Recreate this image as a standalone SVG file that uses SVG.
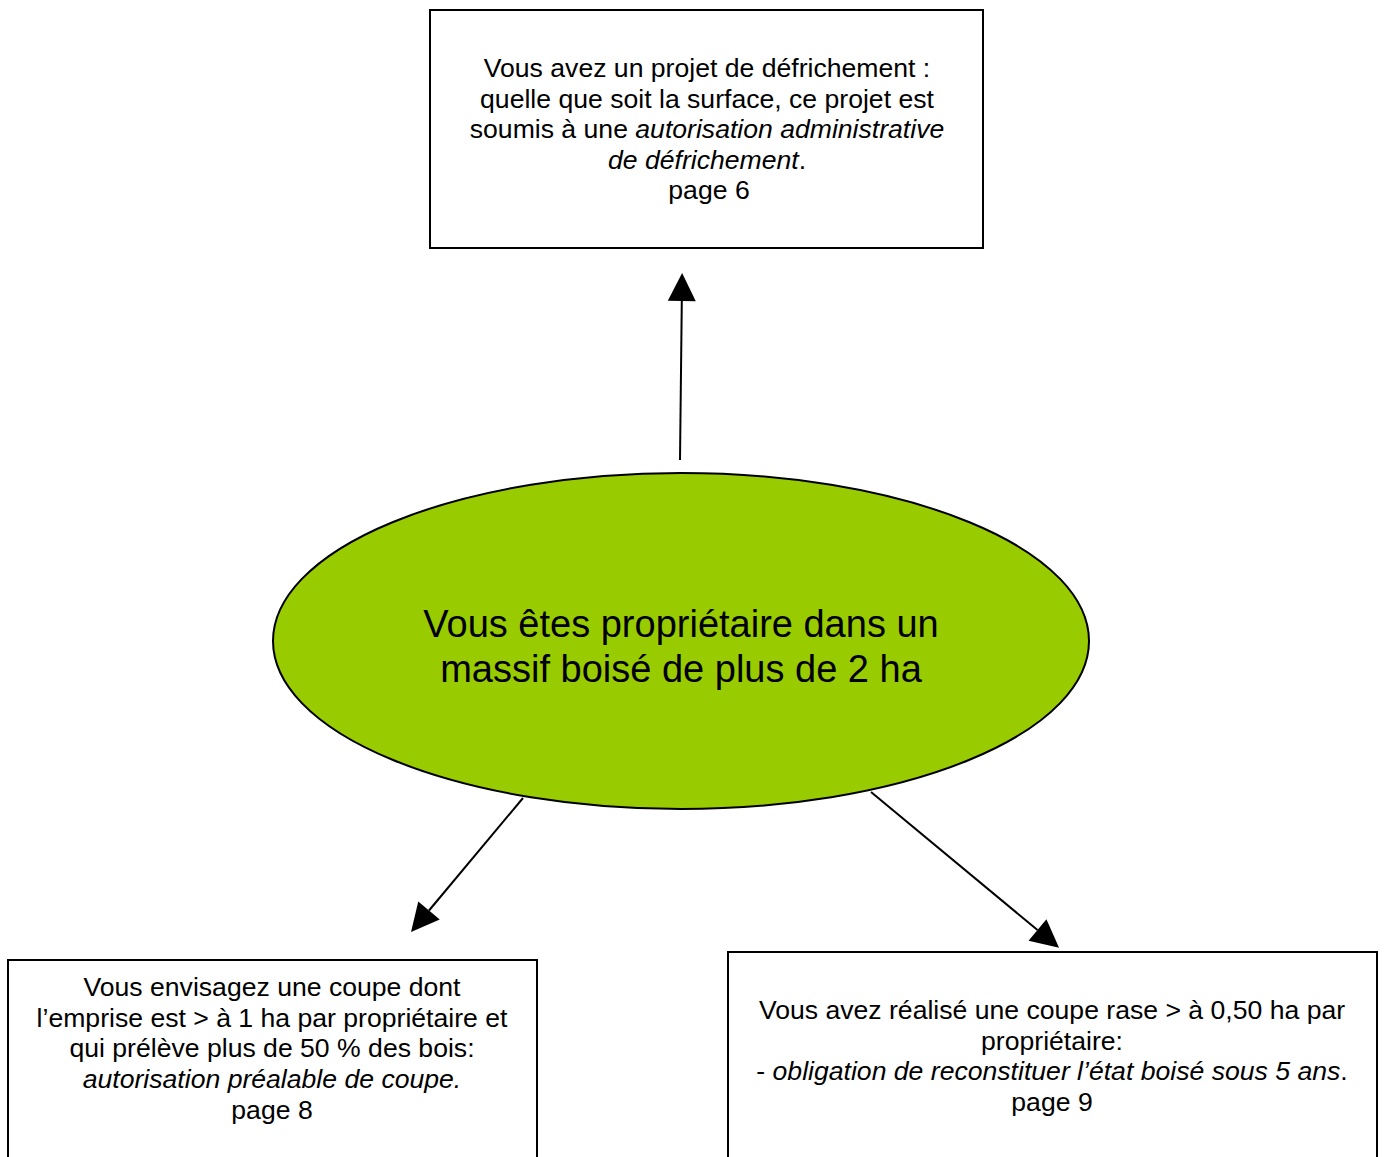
<svg xmlns="http://www.w3.org/2000/svg" width="1385" height="1157" viewBox="0 0 1385 1157">
<style>
.box{fill:#fff;stroke:#000;stroke-width:2}
.t{font-family:"Liberation Sans",Arial,sans-serif;font-size:26.6px;fill:#000;text-anchor:middle}
.big{font-size:38px}
.i{font-style:italic}
.c{stroke:#000;stroke-width:2;fill:none}
</style>
<defs>
<marker id="ah" markerWidth="30" markerHeight="30" refX="0" refY="0" viewBox="-1 -15 30 30" markerUnits="userSpaceOnUse" orient="auto">
<path d="M0,-14 L28,0 L0,14 Z" fill="#000"/>
</marker>
</defs>
<rect width="1385" height="1157" fill="#fff"/>
<g id="top">
<rect class="box" x="430" y="10" width="553" height="238"/>
<text class="t"><tspan x="707" y="77">Vous avez un projet de défrichement :</tspan><tspan x="707" y="107.5">quelle que soit la surface, ce projet est</tspan><tspan x="707" y="138">soumis à une <tspan class="i">autorisation administrative</tspan></tspan><tspan x="707" y="168.5"><tspan class="i">de défrichement</tspan>.</tspan><tspan x="709" y="199">page 6</tspan></text>
</g>
<g id="center">
<ellipse cx="681" cy="641" rx="408" ry="168" fill="#99CC00" stroke="#000" stroke-width="2"/>
<text class="t big"><tspan x="681" y="637">Vous êtes propriétaire dans un</tspan><tspan x="681" y="682">massif boisé de plus de 2 ha</tspan></text>
</g>
<g id="left">
<rect class="box" x="8" y="960" width="529" height="210"/>
<text class="t"><tspan x="272" y="996">Vous envisagez une coupe dont</tspan><tspan x="272" y="1027">l’emprise est &gt; à 1 ha par propriétaire et</tspan><tspan x="272" y="1057">qui prélève plus de 50 % des bois:</tspan><tspan x="272" y="1088" class="i">autorisation préalable de coupe.</tspan><tspan x="272" y="1119">page 8</tspan></text>
</g>
<g id="right">
<rect class="box" x="728" y="952" width="649" height="220"/>
<text class="t"><tspan x="1052" y="1019">Vous avez réalisé une coupe rase &gt; à 0,50 ha par</tspan><tspan x="1052" y="1050">propriétaire:</tspan><tspan x="1052" y="1080">- <tspan class="i">obligation de reconstituer l’état boisé sous 5 ans</tspan>.</tspan><tspan x="1052" y="1111">page 9</tspan></text>
</g>
<g id="connectors">
<line class="c" x1="680" y1="460" x2="681.8" y2="301" marker-end="url(#ah)"/>
<line class="c" x1="523" y1="798" x2="429" y2="910.5" marker-end="url(#ah)"/>
<line class="c" x1="871" y1="792" x2="1037.5" y2="930" marker-end="url(#ah)"/>
</g>
</svg>
